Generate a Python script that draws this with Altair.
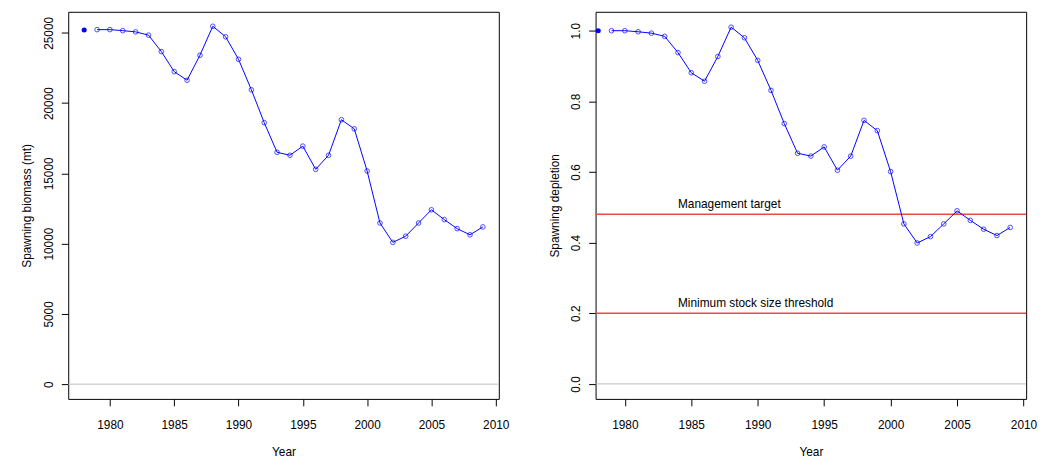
import altair as alt
import pandas as pd

years = list(range(1978, 2010))
biomass = [25210, 25230, 25230, 25160, 25070, 24840, 23670, 22240, 21630, 23410,
           25470, 24720, 23120, 20950, 18610, 16500, 16290, 16940, 15290, 16290,
           18820, 18170, 15170, 11470, 10090, 10530, 11470, 12410, 11710, 11070,
           10630, 11190]
depletion = [1.000, 1.000, 1.000, 0.997, 0.993, 0.984, 0.938, 0.881, 0.857, 0.927,
             1.010, 0.980, 0.916, 0.831, 0.737, 0.653, 0.645, 0.671, 0.605, 0.645,
             0.746, 0.717, 0.601, 0.453, 0.399, 0.417, 0.453, 0.490, 0.463, 0.438,
             0.420, 0.443]
ref_values = [0.48, 0.2]
ref_labels = ["Management target", "Minimum stock size threshold"]
ref_label_year = [1984, 1984]
x_ticks = [1980, 1985, 1990, 1995, 2000, 2005, 2010]
b_ticks = [0, 5000, 10000, 15000, 20000, 25000]
d_ticks = [0.0, 0.2, 0.4, 0.6, 0.8, 1.0]

FONT = "Liberation Sans"
BLUE = "#0000ff"
W, H = 436, 392

df = pd.DataFrame({"year": years, "biomass": biomass, "depletion": depletion})
df_line = df[df["year"] >= 1979]
df_first = df[df["year"] == 1978]
zero_df = pd.DataFrame({"v": [0]})
ref_df = pd.DataFrame({"v": ref_values, "label": ref_labels, "year": ref_label_year})


def xenc(domain):
    return alt.X("year:Q",
                 scale=alt.Scale(domain=domain, nice=False, zero=False),
                 axis=alt.Axis(title="Year", values=x_ticks, format="d",
                               labelPadding=14, titlePadding=16,
                               labelFlush=False, labelOverlap=False))


def yenc(field, title, domain, ticks, fmt):
    return alt.Y(f"{field}:Q",
                 scale=alt.Scale(domain=domain, nice=False, zero=False),
                 axis=alt.Axis(title=title, values=ticks, format=fmt,
                               labelAngle=270, labelAlign="center",
                               labelBaseline="bottom", labelPadding=6,
                               titlePadding=9, labelOverlap=False))


def panel(field, title, ydomain, ticks, fmt, xdomain, refs=False):
    x = xenc(xdomain)
    y = yenc(field, title, ydomain, ticks, fmt)
    line = alt.Chart(df_line).mark_line(color=BLUE, strokeWidth=1).encode(x=x, y=y)
    pts = alt.Chart(df_line).mark_point(shape="circle", filled=False, color=BLUE,
                                        size=22, strokeWidth=1).encode(x=x, y=y)
    first = alt.Chart(df_first).mark_point(shape="circle", filled=True, color=BLUE,
                                           opacity=1, size=26).encode(x=x, y=y)
    zero = alt.Chart(zero_df).mark_rule(color="#bebebe", strokeWidth=1).encode(
        y=alt.Y("v:Q"))
    layers = [zero]
    if refs:
        rule = alt.Chart(ref_df).mark_rule(color="#f04848", strokeWidth=1.5).encode(
            y=alt.Y("v:Q"))
        txt = alt.Chart(ref_df).mark_text(align="left", baseline="alphabetic", dy=-6,
                                          font=FONT, fontSize=12, color="black").encode(
            x=alt.X("year:Q"), y=alt.Y("v:Q"), text="label:N")
        layers += [rule, txt]
    layers += [line, pts, first]
    return alt.layer(*layers).properties(width=W, height=H)


left = panel("biomass", "Spawning biomass (mt)", [-1050, 26500], b_ticks, "d",
             [1976.76, 2010.24])
right = panel("depletion", "Spawning depletion", [-0.0425, 1.0535], d_ticks, ".1f",
              [1977.8, 2010.2], refs=True)

chart = alt.hconcat(left, right, spacing=38).properties(
    padding={"left": 12, "top": 0, "right": 0, "bottom": -2}
).configure_view(
    stroke="black", strokeWidth=1
).configure_axis(
    grid=False, domain=False, ticks=True, tickColor="black", tickSize=7, tickWidth=1,
    labelColor="black", titleColor="black", labelFont=FONT, titleFont=FONT,
    labelFontSize=12, titleFontSize=12, titleFontWeight="normal"
)

chart.save("out.html", embed_options={"renderer": "svg", "actions": False})
